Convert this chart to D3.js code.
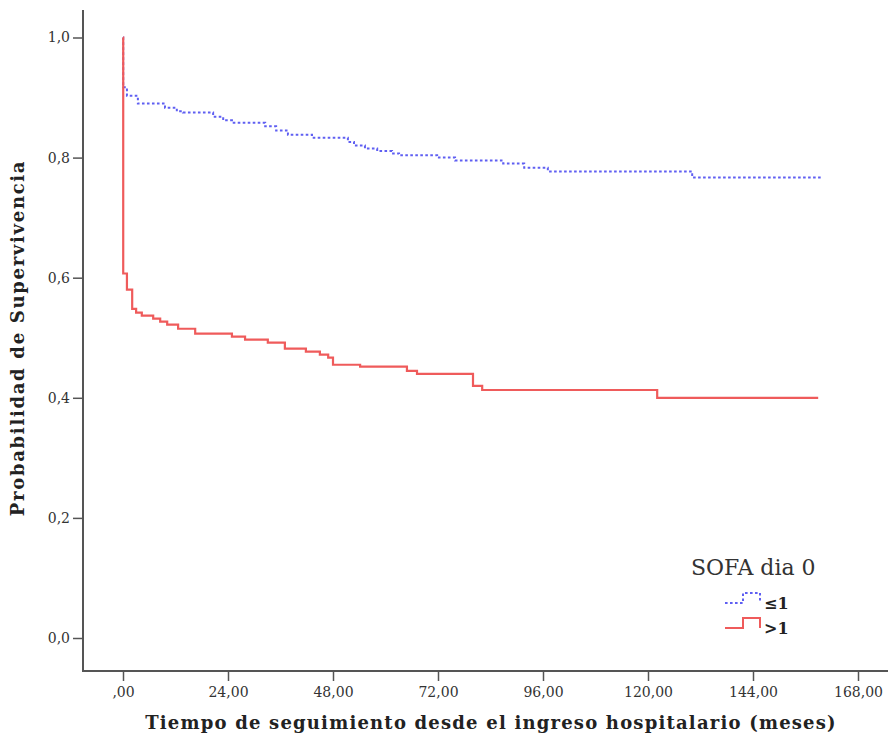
<!DOCTYPE html>
<html>
<head>
<meta charset="utf-8">
<script src="https://cdn.jsdelivr.net/npm/d3@7/dist/d3.min.js"></script>
<style>
  html, body { margin: 0; padding: 0; background: #fff; }
  svg { display: block; }
  .tick text { font-family: "DejaVu Serif", serif; font-size: 14px; fill: #333; }
</style>
</head>
<body>
<svg id="chart" width="890" height="740"></svg>
<script>
// Kaplan-Meier survival by SOFA score on day 0 (months since admission)
const groups = ["≤1", ">1"];
const legendTitle = "SOFA dia 0";

// step times (months) and survival after each step, group SOFA ≤1
const lowTimes = [0, 0.05, 0.9, 3.4, 9.6, 12.3, 13.7, 20.6, 22.9, 24.9, 32.5, 35.0, 37.7, 43.2,
  51.4, 52.8, 55.3, 58.1, 61.5, 63.1, 71.8, 75.9, 86.9, 91.7, 97.1, 130.1, 159.8];
const lowSurv = [1.0, 0.917, 0.903, 0.890, 0.883, 0.877, 0.875, 0.868, 0.862, 0.858, 0.852, 0.845, 0.838, 0.833,
  0.826, 0.820, 0.815, 0.811, 0.807, 0.804, 0.800, 0.795, 0.790, 0.783, 0.777, 0.767, 0.767];

// group SOFA >1
const highTimes = [0, 0.05, 0.9, 2.1, 3.0, 4.3, 6.9, 8.5, 10.1, 12.6, 16.5, 24.9, 27.9, 33.1,
  37.0, 41.8, 45.0, 46.9, 48.0, 54.2, 64.9, 67.2, 80.0, 82.1, 122.1, 158.9];
const highSurv = [1.0, 0.607, 0.580, 0.548, 0.542, 0.537, 0.532, 0.527, 0.522, 0.515, 0.507, 0.502, 0.497, 0.492,
  0.482, 0.477, 0.472, 0.467, 0.455, 0.452, 0.445, 0.440, 0.420, 0.413, 0.400, 0.400];

const xTicks = [0, 24, 48, 72, 96, 120, 144, 168];
const yTicks = [0, 0.2, 0.4, 0.6, 0.8, 1.0];

const svg = d3.select("#chart");
const axisColor = "#555";

const x = d3.scaleLinear().domain([0, 168]).range([123, 858]);
const y = d3.scaleLinear().domain([0, 1]).range([638, 37.5]);

const frameLeft = 83, frameBottom = 671, frameTop = 10, frameRight = 888;

const commaFmt = d3.formatLocale({ decimal: ",", thousands: ".", grouping: [3], currency: ["", ""] });
const fmtX = v => { const s = commaFmt.format(".2f")(v); return s.startsWith("0,") ? s.slice(1) : s; };
const fmtY = commaFmt.format(".1f");

// y axis
const gy = svg.append("g")
  .attr("transform", `translate(${frameLeft},0)`)
  .call(d3.axisLeft(y).tickValues(yTicks).tickFormat(fmtY).tickSize(10).tickPadding(3));
gy.select(".domain").remove();
gy.selectAll(".tick line").attr("stroke", axisColor).attr("stroke-width", 1.5);

// x axis
const gx = svg.append("g")
  .attr("transform", `translate(0,${frameBottom})`)
  .call(d3.axisBottom(x).tickValues(xTicks).tickFormat(fmtX).tickSize(10).tickPadding(6));
gx.select(".domain").remove();
gx.selectAll(".tick line").attr("stroke", axisColor).attr("stroke-width", 1.5);

// frame lines
svg.append("path")
  .attr("d", `M${frameLeft},${frameTop}V${frameBottom}H${frameRight}`)
  .attr("fill", "none").attr("stroke", axisColor).attr("stroke-width", 2);

// survival step curves (SOFA >1 drawn last, on top)
const stepLine = d3.line().curve(d3.curveStepAfter).x(d => x(d[0])).y(d => y(d[1]));
const highData = highTimes.map((t, i) => [t, highSurv[i]]);
const lowData = lowTimes.map((t, i) => [t, lowSurv[i]]);

const redColor = "#ef5b5b", blueColor = "#5f5ff2";

svg.append("path").datum(lowData)
  .attr("d", stepLine).attr("fill", "none")
  .attr("stroke", blueColor).attr("stroke-width", 2)
  .attr("stroke-dasharray", "2.6,2.4");

svg.append("path").datum(highData)
  .attr("d", stepLine).attr("fill", "none")
  .attr("stroke", redColor).attr("stroke-width", 2.2);

// axis titles
svg.append("text")
  .attr("x", 491).attr("y", 729)
  .attr("text-anchor", "middle")
  .attr("font-family", "DejaVu Serif, serif").attr("font-weight", "bold")
  .attr("font-size", 18).attr("letter-spacing", 1.2).attr("fill", "#222")
  .text("Tiempo de seguimiento desde el ingreso hospitalario (meses)");

svg.append("text")
  .attr("transform", "translate(24,338) rotate(-90)")
  .attr("text-anchor", "middle")
  .attr("font-family", "DejaVu Serif, serif").attr("font-weight", "bold")
  .attr("font-size", 18).attr("letter-spacing", 1.7).attr("fill", "#222")
  .text("Probabilidad de Supervivencia");

// legend
const legend = svg.append("g");
legend.append("text")
  .attr("x", 691).attr("y", 575)
  .attr("font-family", "DejaVu Serif, serif").attr("font-size", 22).attr("fill", "#333")
  .text(legendTitle);

const legendItems = [
  { label: groups[0], color: blueColor, dash: "2.6,2.4", base: 603 },
  { label: groups[1], color: redColor, dash: null, base: 628 }
];
legendItems.forEach(d => {
  legend.append("path")
    .attr("d", `M725,${d.base}H743V${d.base - 10}H760V${d.base}`)
    .attr("fill", "none").attr("stroke", d.color).attr("stroke-width", 2)
    .attr("stroke-dasharray", d.dash);
  legend.append("text")
    .attr("x", 764).attr("y", d.base + 6)
    .attr("font-family", "DejaVu Serif, serif").attr("font-weight", "bold")
    .attr("font-size", 16).attr("fill", "#222")
    .text(d.label);
});
</script>
</body>
</html>
